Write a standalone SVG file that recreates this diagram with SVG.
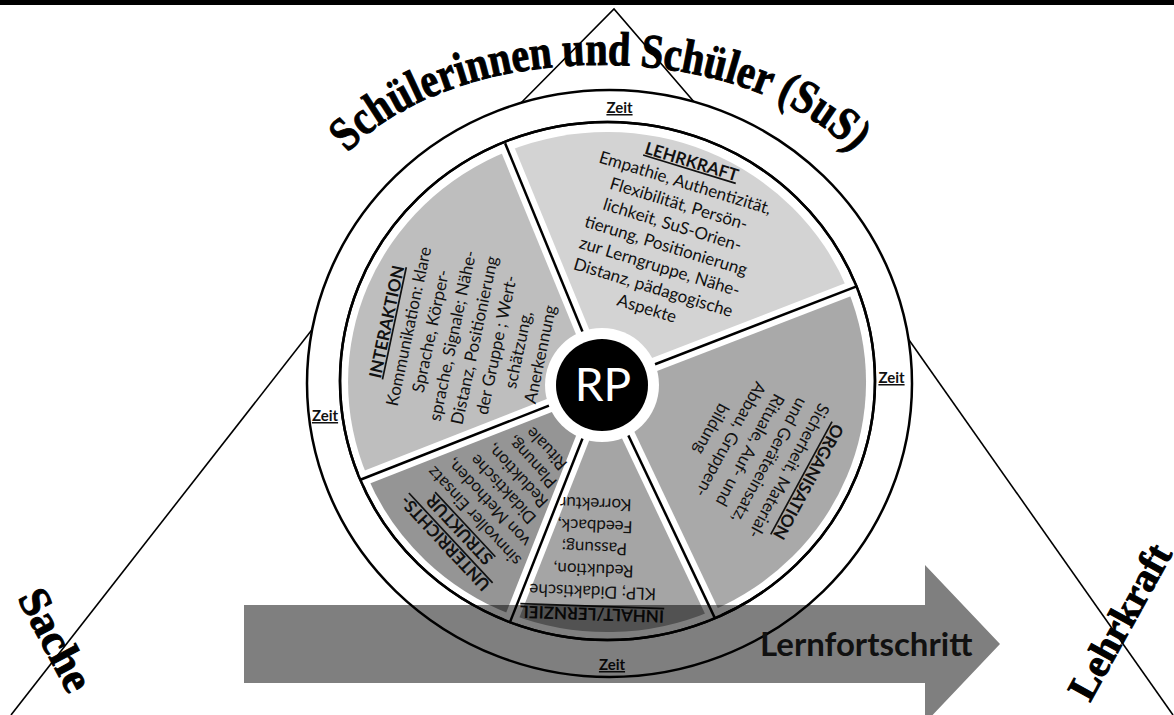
<svg xmlns="http://www.w3.org/2000/svg" width="1174" height="715" viewBox="0 0 1174 715">
<style>
.seg text{font-family:Lato,"Open Sans","Liberation Sans",sans-serif;font-size:17px;fill:#111;text-anchor:middle}
.seg .ttl{font-weight:bold;text-decoration:underline}
.zeit{font-family:Lato,"Liberation Sans",sans-serif;font-weight:bold;font-size:15px;fill:#111;text-anchor:middle;text-decoration:underline}
.big{font-family:"Liberation Serif","DejaVu Serif",serif;font-weight:bold;fill:#000;stroke:#000;stroke-width:1}
.tri{fill:none;stroke:#000;stroke-width:1.6}
.ring{fill:#fff;stroke:#000;stroke-width:2.5}
.gap{stroke:#fff;stroke-width:14}
.div{stroke:#000;stroke-width:2.5}
</style>
<defs>
<path id="titleArc" d="M 319.3 201.3 A 285 165 0 0 1 880.7 201.3"/>
</defs>
<rect x="0" y="0" width="1174" height="715" fill="#fff"/>
<rect x="0" y="0" width="1174" height="5" fill="#000"/>

<g id="connectors">
<polyline class="tri" points="510,114 614,9 695,103"/>
<line class="tri" x1="318" y1="322" x2="11" y2="715"/>
<line class="tri" x1="902" y1="330" x2="1173" y2="715"/>
</g>

<g id="wheel">
<ellipse class="ring" cx="609.5" cy="383.5" rx="302.5" ry="293.5"/>
<ellipse class="ring" cx="607.5" cy="381" rx="267.5" ry="259"/>
</g>

<g id="node-lehrkraft-seg"><path d="M604,384 L508.2,150.9 A259,250 0 0 1 847.7,289.7 Z" fill="#d3d3d3"/></g>
<g id="node-organisation-seg"><path d="M604,384 L847.7,289.7 A259,250 0 0 1 711.4,610.9 Z" fill="#a9a9a9"/></g>
<g id="node-inhalt-seg"><path d="M604,384 L711.4,610.9 A259,250 0 0 1 512.8,615 Z" fill="#a5a5a5"/></g>
<g id="node-unterricht-seg"><path d="M604,384 L512.8,615 A259,250 0 0 1 367.5,477 Z" fill="#959595"/></g>
<g id="node-interaktion-seg"><path d="M604,384 L367.5,477 A259,250 0 0 1 508.2,150.9 Z" fill="#bebebe"/></g>

<g id="dividers">
<line class="gap" x1="604" y1="384" x2="505.1" y2="143.2"/>
<line class="gap" x1="604" y1="384" x2="856" y2="286.6"/>
<line class="gap" x1="604" y1="384" x2="715" y2="618.4"/>
<line class="gap" x1="604" y1="384" x2="509.8" y2="622.6"/>
<line class="gap" x1="604" y1="384" x2="359.7" y2="480"/>
<line class="div" x1="604" y1="384" x2="505.1" y2="143.2"/>
<line class="div" x1="604" y1="384" x2="856" y2="286.6"/>
<line class="div" x1="604" y1="384" x2="715" y2="618.4"/>
<line class="div" x1="604" y1="384" x2="509.8" y2="622.6"/>
<line class="div" x1="604" y1="384" x2="359.7" y2="480"/>
<ellipse cx="607.5" cy="381" rx="267.5" ry="259" fill="none" stroke="#000" stroke-width="2.5"/>
</g>

<g id="node-lehrkraft" class="seg" transform="translate(691.7,161.7) rotate(17)">
<text class="ttl" y="6">LEHRKRAFT</text>
<text y="27.9">Empathie, Authentizität,</text>
<text y="49.8">Flexibilität, Persön-</text>
<text y="71.7">lichkeit, SuS-Orien-</text>
<text y="93.6">tierung, Positionierung</text>
<text y="115.5">zur Lerngruppe, Nähe-</text>
<text y="137.4">Distanz, pädagogische</text>
<text y="159.3">Aspekte</text>
</g>

<g id="node-interaktion" class="seg" transform="translate(386.7,321.7) rotate(-78)">
<text class="ttl" y="6">INTERAKTION</text>
<text y="28.4">Kommunikation: klare</text>
<text y="50.8">Sprache, Körper-</text>
<text y="73.2">sprache, Signale; Nähe-</text>
<text y="95.6">Distanz, Positionierung</text>
<text y="118">der Gruppe ; Wert-</text>
<text y="140.4">schätzung,</text>
<text y="162.8">Anerkennung</text>
</g>

<g id="node-organisation" class="seg" transform="translate(808.3,481.7) rotate(118.5)">
<text class="ttl" y="6">ORGANISATION</text>
<text y="28">Sicherheit, Material-</text>
<text y="50">und Geräteeinsatz,</text>
<text y="72">Rituale, Auf- und</text>
<text y="94">Abbau, Gruppen-</text>
<text y="116">bildung</text>
</g>

<g id="node-unterricht" class="seg" transform="translate(445,543.3) rotate(227)">
<text class="ttl" y="6">UNTERRICHTS-</text>
<text class="ttl" y="25.8">STRUKTUR</text>
<text y="45.6">sinnvoller Einsatz</text>
<text y="65.4">von Methoden,</text>
<text y="85.2">Didaktische</text>
<text y="105">Reduktion,</text>
<text y="124.8">Planung,</text>
<text y="144.6">Rituale</text>
</g>

<g id="node-inhalt" class="seg" transform="translate(592,614) rotate(182)">
<text class="ttl" y="6">INHALT/LERNZIEL</text>
<text y="28">KLP; Didaktische</text>
<text y="50">Reduktion,</text>
<text y="72">Passung;</text>
<text y="94">Feedback,</text>
<text y="116">Korrektur</text>
</g>

<g id="node-rp">
<circle cx="602" cy="385" r="57" fill="#fff"/>
<circle cx="602" cy="385" r="46" fill="#000"/>
<text x="603" y="401" font-family="Lato,'Open Sans',sans-serif" font-size="46" fill="#fff" text-anchor="middle">RP</text>
</g>

<g id="zeit-labels">
<text class="zeit" x="619.5" y="113">Zeit</text>
<text class="zeit" x="325" y="421">Zeit</text>
<text class="zeit" x="891.5" y="383">Zeit</text>
<text class="zeit" x="612" y="670">Zeit</text>
</g>

<g id="node-arrow">
<polygon points="244,605 925,605 925,565 1000,644 925,723 925,683 244,683" fill="#000" fill-opacity="0.5"/>
<text x="760" y="656" font-family="Lato,'Liberation Sans',sans-serif" font-weight="bold" font-size="33" fill="#111">Lernfortschritt</text>
</g>

<g id="node-sus">
<text class="big" font-size="48"><textPath href="#titleArc" startOffset="50%" text-anchor="middle" textLength="548" lengthAdjust="spacingAndGlyphs">Schülerinnen und Schüler (SuS)</textPath></text>
</g>
<g id="node-sache">
<text class="big" font-size="44" transform="translate(17,598) rotate(62)">Sache</text>
</g>
<g id="node-lehrkraft-corner">
<text class="big" font-size="40" transform="translate(1090,703) rotate(-61)">Lehrkraft</text>
</g>
</svg>
